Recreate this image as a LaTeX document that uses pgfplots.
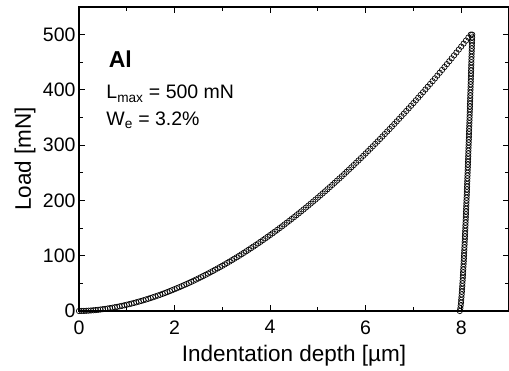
\documentclass[border=0pt]{standalone}
\usepackage{fontspec}
\setmainfont{Liberation Sans}
\usepackage{pgfplots}
\usepackage{pgfplotstable}
\pgfplotsset{compat=1.18}
\pgfplotstableread{
h L
0.00 0.00
0.05 0.05
0.10 0.18
0.15 0.37
0.20 0.63
0.25 0.93
0.30 1.30
0.35 1.71
0.40 2.18
0.45 2.69
0.50 3.25
0.55 3.86
0.60 4.52
0.65 5.22
0.70 5.96
0.75 6.75
0.80 7.58
0.85 8.46
0.90 9.37
0.95 10.33
1.00 11.33
1.05 12.37
1.10 13.45
1.15 14.57
1.20 15.73
1.25 16.93
1.30 18.17
1.35 19.45
1.40 20.76
1.45 22.12
1.50 23.51
1.55 24.94
1.60 26.40
1.65 27.91
1.70 29.45
1.75 31.02
1.80 32.64
1.85 34.29
1.90 35.97
1.95 37.69
2.00 39.45
2.05 41.25
2.10 43.07
2.15 44.94
2.20 46.84
2.25 48.77
2.30 50.74
2.35 52.74
2.40 54.78
2.45 56.85
2.50 58.95
2.55 61.09
2.60 63.27
2.65 65.47
2.70 67.71
2.75 69.99
2.80 72.29
2.85 74.64
2.90 77.01
2.95 79.42
3.00 81.85
3.05 84.33
3.10 86.83
3.15 89.37
3.20 91.94
3.25 94.54
3.30 97.18
3.35 99.84
3.40 102.54
3.45 105.27
3.50 108.03
3.55 110.83
3.60 113.65
3.65 116.51
3.70 119.40
3.75 122.32
3.80 125.27
3.85 128.25
3.90 131.27
3.95 134.32
4.00 137.38
4.05 140.50
4.10 143.63
4.15 146.80
4.20 149.99
4.25 153.23
4.30 156.49
4.35 159.78
4.40 163.09
4.45 166.45
4.50 169.83
4.55 173.24
4.60 176.68
4.65 180.15
4.70 183.66
4.75 187.19
4.80 190.75
4.85 194.34
4.90 197.96
4.95 201.61
5.00 205.30
5.05 209.00
5.10 212.74
5.15 216.51
5.20 220.31
5.25 224.14
5.30 228.00
5.35 231.88
5.40 235.80
5.45 239.75
5.50 243.72
5.55 247.72
5.60 251.75
5.65 255.81
5.70 259.90
5.75 264.02
5.80 268.17
5.85 272.34
5.90 276.54
5.95 280.78
6.00 285.04
6.05 289.33
6.10 293.65
6.15 298.00
6.20 302.37
6.25 306.77
6.30 311.20
6.35 315.66
6.40 320.15
6.45 324.67
6.50 329.21
6.55 333.79
6.60 338.38
6.65 343.01
6.70 347.67
6.75 352.35
6.80 357.07
6.85 361.81
6.90 366.57
6.95 371.37
7.00 376.19
7.05 381.04
7.10 385.92
7.15 390.82
7.20 395.76
7.25 400.72
7.30 405.70
7.35 410.72
7.40 415.76
7.45 420.83
7.50 425.93
7.55 431.06
7.60 436.21
7.65 441.40
7.70 446.60
7.75 451.83
7.80 457.09
7.85 462.38
7.90 467.69
7.95 473.04
8.00 478.40
8.05 483.80
8.10 489.22
8.15 494.68
8.20 500.00
}\loading
\pgfplotstableread{
h L
8.2300 500
8.2283 495
8.2265 490
8.2247 485
8.2230 480
8.2212 475
8.2194 470
8.2177 465
8.2159 460
8.2141 455
8.2123 450
8.2105 445
8.2087 440
8.2068 435
8.2050 430
8.2032 425
8.2013 420
8.1995 415
8.1976 410
8.1958 405
8.1939 400
8.1920 395
8.1901 390
8.1882 385
8.1863 380
8.1844 375
8.1825 370
8.1806 365
8.1786 360
8.1767 355
8.1747 350
8.1728 345
8.1708 340
8.1688 335
8.1668 330
8.1648 325
8.1628 320
8.1608 315
8.1587 310
8.1567 305
8.1546 300
8.1526 295
8.1505 290
8.1484 285
8.1463 280
8.1442 275
8.1421 270
8.1399 265
8.1378 260
8.1356 255
8.1334 250
8.1312 245
8.1290 240
8.1268 235
8.1245 230
8.1223 225
8.1200 220
8.1177 215
8.1154 210
8.1131 205
8.1107 200
8.1083 195
8.1060 190
8.1036 185
8.1011 180
8.0987 175
8.0962 170
8.0937 165
8.0912 160
8.0886 155
8.0861 150
8.0834 145
8.0808 140
8.0781 135
8.0754 130
8.0727 125
8.0699 120
8.0671 115
8.0643 110
8.0614 105
8.0584 100
8.0555 95
8.0524 90
8.0493 85
8.0462 80
8.0429 75
8.0396 70
8.0363 65
8.0328 60
8.0292 55
8.0256 50
8.0218 45
8.0179 40
8.0138 35
8.0095 30
8.0049 25
8.0001 20
7.9948 15
7.9889 10
7.9819 5
7.9700 0
}\unloading
\begin{document}
\begin{tikzpicture}
\path[use as bounding box] (-79pt,-60pt) rectangle (430pt,311pt);
\begin{axis}[
  scale only axis,
  width=430pt, height=304pt,
  xmin=0, xmax=9, ymin=0, ymax=550,
  xtick={0,2,4,6,8},
  minor xtick={1,3,5,7,9},
  ytick={0,100,200,300,400,500},
  minor ytick={50,150,250,350,450},
  tick align=inside,
  major tick length=6pt,
  minor tick length=4pt,
  axis line style={line width=1.3pt},
  every tick/.style={line width=1.1pt, black},
  /pgf/number format/assume math mode=true,
  ticklabel style={font=\fontsize{19.5}{22}\selectfont},
  xticklabel style={yshift=-6pt},
  label style={font=\fontsize{22.5}{26}\selectfont},
  xlabel={Indentation depth [µm]},
  ylabel={Load [mN]},
  xlabel style={at={(axis description cs:0.5,0)}, anchor=north, yshift=-31pt},
  ylabel style={at={(axis description cs:0,0.5)}, anchor=south, yshift=40pt},
  clip=false,
]
\addplot[only marks, mark=o, mark size=2.7pt, mark options={line width=0.65pt, fill=white, draw=black}] table[x=h, y=L] {\loading};
\addplot[only marks, mark=o, mark size=2.7pt, mark options={line width=0.65pt, fill=white, draw=black}] table[x=h, y=L] {\unloading};
\node[anchor=west, font=\bfseries\fontsize{23}{27}\selectfont] at (axis cs:0.55,455) {Al};
\node[anchor=west, font=\fontsize{19.5}{22}\selectfont] at (axis cs:0.5,393) {L$_{\mathrm{max}}$ = 500 mN};
\node[anchor=west, font=\fontsize{19.5}{22}\selectfont] at (axis cs:0.5,345) {W$_{\mathrm{e}}$ = 3.2\%};
\end{axis}
\end{tikzpicture}
\end{document}
